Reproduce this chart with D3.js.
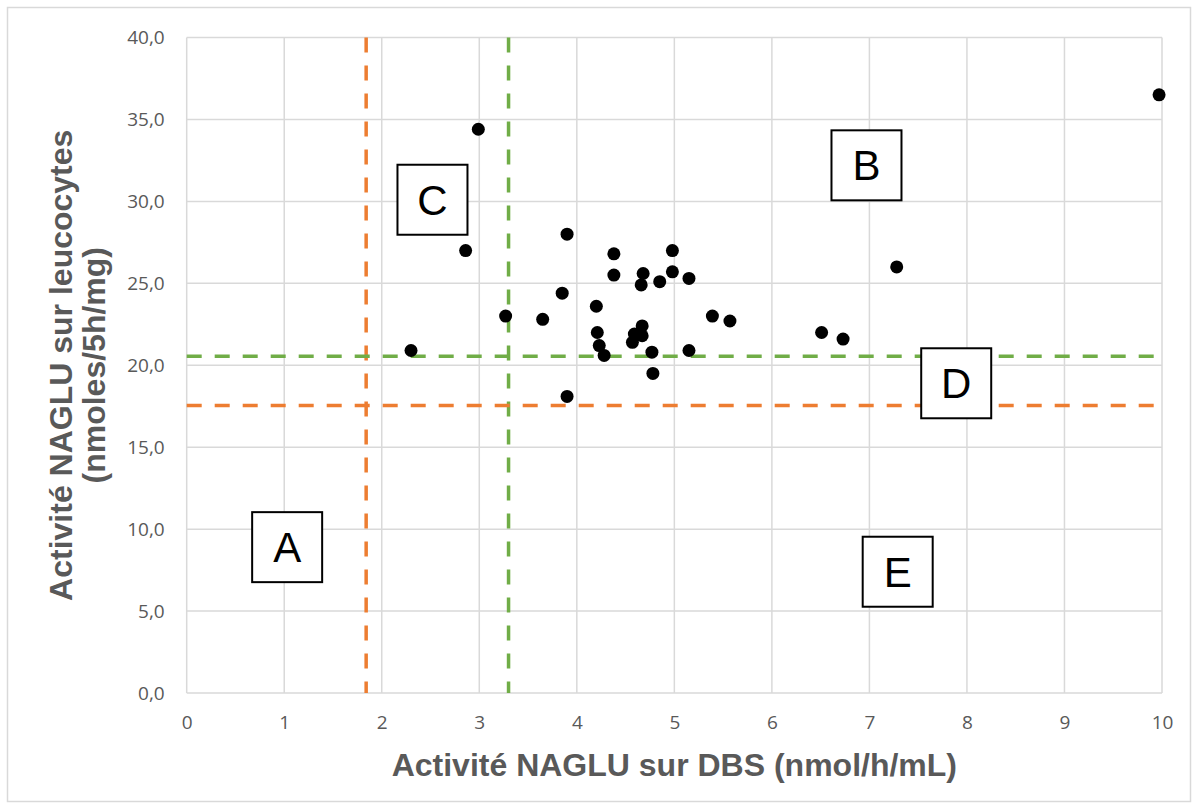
<!DOCTYPE html>
<html>
<head>
<meta charset="utf-8">
<script src="https://cdn.jsdelivr.net/npm/d3@7"></script>
<style>
  body { margin: 0; background: #fff; }
  svg { display: block; }
</style>
</head>
<body>
<svg id="chart" width="1198" height="809"></svg>
<script>
const dbs = [2.30, 2.86, 2.99, 3.27, 3.65, 3.85, 3.90, 3.90, 4.20, 4.21, 4.23, 4.28,
  4.38, 4.38, 4.57, 4.59, 4.66, 4.67, 4.67, 4.68, 4.77, 4.78, 4.85, 4.98, 4.98,
  5.15, 5.15, 5.39, 5.57, 6.51, 6.73, 7.28, 9.97]
const leuco = [20.9, 27.0, 34.4, 23.0, 22.8, 24.4, 28.0, 18.1, 23.6, 22.0, 21.2, 20.6,
  26.8, 25.5, 21.4, 21.9, 24.9, 22.4, 21.8, 25.6, 20.8, 19.5, 25.1, 27.0, 25.7,
  25.3, 20.9, 23.0, 22.7, 22.0, 21.6, 26.0, 36.5]

const xTicks = [0, 1, 2, 3, 4, 5, 6, 7, 8, 9, 10]
const yTicks = [0, 5, 10, 15, 20, 25, 30, 35, 40]

// cut-off lines
const cutX = [{ v: 1.84, color: '#ED7D31' }, { v: 3.3, color: '#70AD47' }]
const cutY = [{ v: 17.55, color: '#ED7D31' }, { v: 20.55, color: '#70AD47' }]

// zone labels (centre in data units)
const zones = ['A', 'B', 'C', 'D', 'E']
const zoneX = [1.03, 6.97, 2.52, 7.89, 7.29]
const zoneY = [8.9, 32.2, 30.1, 18.9, 7.4]

const xTitle = 'Activité NAGLU sur DBS (nmol/h/mL)'
const yTitle = ['Activité NAGLU sur leucocytes', '(nmoles/5h/mg)']

const svg = d3.select('#chart')
const plot = { left: 186.7, right: 1162, top: 37.5, bottom: 693 }

const x = d3.scaleLinear().domain([0, 10]).range([plot.left, plot.right])
const y = d3.scaleLinear().domain([0, 40]).range([plot.bottom, plot.top])
const fmt = d => d3.format('.1f')(d).replace('.', ',')

// outer frame
svg.append('rect')
    .attr('x', 7.5).attr('y', 7.5).attr('width', 1183).attr('height', 794)
    .attr('fill', '#fff').attr('stroke', '#d9d9d9').attr('stroke-width', 1.5)

// grid
const grid = svg.append('g')
grid.selectAll('.vgrid').data(xTicks).join('line')
    .attr('class', 'vgrid')
    .attr('x1', d => x(d)).attr('x2', d => x(d))
    .attr('y1', plot.top).attr('y2', plot.bottom)
    .attr('stroke', '#d9d9d9').attr('stroke-width', 1.5)
grid.selectAll('.hgrid').data(yTicks).join('line')
    .attr('class', 'hgrid')
    .attr('x1', plot.left).attr('x2', plot.right)
    .attr('y1', d => y(d)).attr('y2', d => y(d))
    .attr('stroke', '#d9d9d9').attr('stroke-width', 1.5)

// axes, labels only
const xAxis = svg.append('g')
    .attr('transform', `translate(0,${plot.bottom})`)
    .call(d3.axisBottom(x).tickValues(xTicks).tickSize(0).tickPadding(23).tickFormat(d3.format('d')))
const yAxis = svg.append('g')
    .attr('transform', `translate(${plot.left},0)`)
    .call(d3.axisLeft(y).tickValues(yTicks).tickSize(0).tickPadding(22).tickFormat(fmt))
;[xAxis, yAxis].forEach(a => {
    a.select('.domain').remove()
    a.selectAll('text')
        .attr('fill', '#595959')
        .style('font-family', '"Open Sans", sans-serif')
        .style('font-size', '19px')
})

// dashed cut-offs
svg.selectAll('.cutX').data(cutX).join('line')
    .attr('class', 'cutX')
    .attr('x1', d => x(d.v)).attr('x2', d => x(d.v))
    .attr('y1', plot.top).attr('y2', plot.bottom)
    .attr('stroke', d => d.color).attr('stroke-width', 3.5)
    .attr('stroke-dasharray', '15 13')
svg.selectAll('.cutY').data(cutY).join('line')
    .attr('class', 'cutY')
    .attr('x1', plot.left).attr('x2', plot.right)
    .attr('y1', d => y(d.v)).attr('y2', d => y(d.v))
    .attr('stroke', d => d.color).attr('stroke-width', 3.5)
    .attr('stroke-dasharray', '15 13')

// points
svg.selectAll('.pt').data(d3.zip(dbs, leuco)).join('circle')
    .attr('class', 'pt')
    .attr('cx', d => x(d[0])).attr('cy', d => y(d[1]))
    .attr('r', 6.5).attr('fill', '#000')

// zone boxes
const box = svg.selectAll('.zone').data(d3.zip(zones, zoneX, zoneY)).join('g')
    .attr('class', 'zone')
    .attr('transform', d => `translate(${x(d[1])},${y(d[2])})`)
box.append('rect')
    .attr('x', -35).attr('y', -35).attr('width', 70).attr('height', 70)
    .attr('fill', '#fff').attr('stroke', '#000').attr('stroke-width', 2)
box.append('text')
    .attr('text-anchor', 'middle').attr('dy', '0.36em')
    .style('font-family', '"Liberation Sans", Arial, sans-serif')
    .style('font-size', '42px')
    .text(d => d[0])

// axis titles
svg.append('text')
    .attr('x', (plot.left + plot.right) / 2).attr('y', 776)
    .attr('text-anchor', 'middle').attr('fill', '#595959')
    .style('font-family', '"Liberation Sans", Arial, sans-serif')
    .style('font-size', '32px').style('font-weight', 'bold')
    .text(xTitle)
svg.append('text')
    .attr('transform', `translate(72,${(plot.top + plot.bottom) / 2}) rotate(-90)`)
    .attr('text-anchor', 'middle').attr('fill', '#595959')
    .style('font-family', '"Liberation Sans", Arial, sans-serif')
    .style('font-size', '32px').style('font-weight', 'bold')
    .selectAll('tspan').data(yTitle).join('tspan')
    .attr('x', 0).attr('dy', (d, i) => i ? 33 : 0)
    .text(d => d)
</script>
</body>
</html>
